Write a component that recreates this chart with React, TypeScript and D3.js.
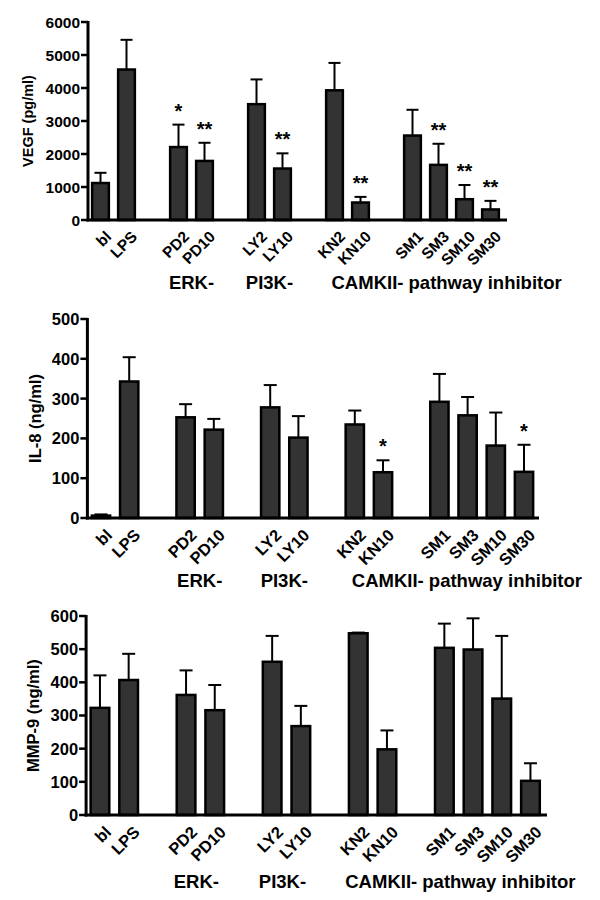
import React from "react";
import * as d3 from "d3";

const categories = ["bl", "LPS", "PD2", "PD10", "LY2", "LY10", "KN2", "KN10", "SM1", "SM3", "SM10", "SM30"];
const slots = [0, 1, 3, 4, 6, 7, 9, 10, 12, 13, 14, 15];

const vegfMean = [1120, 4560, 2210, 1790, 3510, 1560, 3930, 530, 2560, 1670, 630, 320];
const vegfErr = [1430, 5460, 2890, 2340, 4260, 2020, 4760, 700, 3340, 2310, 1060, 580];
const vegfSig = ["", "", "*", "**", "", "**", "", "**", "", "**", "**", "**"];
const vegfTicks = [0, 1000, 2000, 3000, 4000, 5000, 6000];

const il8Mean = [6, 343, 253, 222, 278, 202, 235, 115, 292, 258, 182, 116];
const il8Err = [9, 404, 286, 249, 334, 256, 270, 145, 362, 304, 265, 184];
const il8Sig = ["", "", "", "", "", "", "", "*", "", "", "", "*"];
const il8Ticks = [0, 100, 200, 300, 400, 500];

const mmpMean = [323, 407, 362, 316, 462, 268, 548, 198, 504, 499, 351, 103];
const mmpErr = [421, 486, 436, 392, 540, 329, 550, 255, 577, 593, 540, 156];
const mmpSig = ["", "", "", "", "", "", "", "", "", "", "", ""];
const mmpTicks = [0, 100, 200, 300, 400, 500, 600];

const groupLabels = ["ERK-", "PI3K-", "CAMKII- pathway inhibitor"];

const FONT = "'Liberation Sans', Arial, Helvetica, sans-serif";

type PanelCfg = {
  title: string;
  mean: number[];
  err: number[];
  sig: string[];
  ticks: number[];
  yMax: number;
  xStart: number;
  step: number;
  axisEnd: number;
  yTop: number;
  yBottom: number;
  tickFont: number;
  titleFont: number;
  titleX: number;
  catFont: number;
  groupBaseline: number;
  groupShift: number;
  cap: number;
};

function Panel({ c }: { c: PanelCfg }) {
  const x = d3
    .scaleBand<number>()
    .domain(d3.range(16))
    .range([c.xStart, c.xStart + c.step * 16])
    .paddingInner(0)
    .paddingOuter(0);
  const y = d3.scaleLinear().domain([0, c.yMax]).range([c.yBottom, c.yTop]);
  const bw = c.step * 0.72;
  const cx = (i: number) => (x(slots[i]) as number) + x.bandwidth() / 2;
  const axisX = c.xStart + 0.5;
  const midY = (c.yTop + c.yBottom) / 2;

  const grpErk = (cx(2) + cx(3)) / 2;
  const grpPi = (cx(4) + cx(5)) / 2;
  const grpCam = cx(6) - 3;

  return (
    <g fontFamily={FONT} fontWeight="bold" fill="#000">
      {categories.map((cat, i) => {
        const top = y(c.mean[i]);
        const h = y(0) - top;
        const ex = cx(i);
        const et = y(c.err[i]);
        return (
          <g key={cat}>
            <line x1={ex} x2={ex} y1={top} y2={et} stroke="#000" strokeWidth={2} />
            <line x1={ex - c.cap / 2} x2={ex + c.cap / 2} y1={et} y2={et} stroke="#000" strokeWidth={2} />
            <rect
              x={ex - bw / 2 + 1}
              y={top}
              width={bw - 2}
              height={Math.max(h, 0.5)}
              fill="#333333"
              stroke="#000"
              strokeWidth={2.5}
            />
            {c.sig[i] && (
              <text x={ex} y={et - 7} textAnchor="middle" fontSize={20} fontWeight="bold">
                {c.sig[i]}
              </text>
            )}
            <text
              transform={`translate(${ex + 4},${c.yBottom + 10}) rotate(-45)`}
              textAnchor="end"
              dy="0.7em"
              fontSize={c.catFont}
            >
              {cat}
            </text>
          </g>
        );
      })}
      <line x1={axisX} x2={axisX} y1={c.yTop - 1} y2={c.yBottom + 1.5} stroke="#000" strokeWidth={3} />
      <line x1={axisX - 1.5} x2={c.axisEnd} y1={c.yBottom} y2={c.yBottom} stroke="#000" strokeWidth={3} />
      {c.ticks.map((t) => (
        <g key={t}>
          <line x1={axisX - 7} x2={axisX} y1={y(t)} y2={y(t)} stroke="#000" strokeWidth={2.5} />
          <text x={axisX - 8} y={y(t)} dy="0.36em" textAnchor="end" fontSize={c.tickFont}>
            {t}
          </text>
        </g>
      ))}
      <text
        transform={`translate(${c.titleX},${midY}) rotate(-90)`}
        textAnchor="middle"
        fontSize={c.titleFont}
      >
        {c.title}
      </text>
      <text x={grpErk + c.groupShift} y={c.groupBaseline} textAnchor="middle" fontSize={18.5}>
        {groupLabels[0]}
      </text>
      <text x={grpPi + c.groupShift} y={c.groupBaseline} textAnchor="middle" fontSize={18.5}>
        {groupLabels[1]}
      </text>
      <text x={grpCam + c.groupShift * 2.5} y={c.groupBaseline} textAnchor="start" fontSize={18.5}>
        {groupLabels[2]}
      </text>
    </g>
  );
}

const panels: PanelCfg[] = [
  {
    title: "VEGF (pg/ml)",
    mean: vegfMean,
    err: vegfErr,
    sig: vegfSig,
    ticks: vegfTicks,
    yMax: 6000,
    xStart: 87.5,
    step: 26,
    axisEnd: 507,
    yTop: 22,
    yBottom: 220,
    tickFont: 15.5,
    titleFont: 14.5,
    titleX: 33,
    catFont: 15.5,
    groupBaseline: 289,
    groupShift: 0,
    cap: 12,
  },
  {
    title: "IL-8 (ng/ml)",
    mean: il8Mean,
    err: il8Err,
    sig: il8Sig,
    ticks: il8Ticks,
    yMax: 500,
    xStart: 86.9,
    step: 28.2,
    axisEnd: 539,
    yTop: 319,
    yBottom: 518,
    tickFont: 16.5,
    titleFont: 16.5,
    titleX: 41,
    catFont: 16.5,
    groupBaseline: 587,
    groupShift: 0,
    cap: 13,
  },
  {
    title: "MMP-9 (ng/ml)",
    mean: mmpMean,
    err: mmpErr,
    sig: mmpSig,
    ticks: mmpTicks,
    yMax: 600,
    xStart: 85.6,
    step: 28.7,
    axisEnd: 547,
    yTop: 616,
    yBottom: 815,
    tickFont: 16.5,
    titleFont: 16.5,
    titleX: 39,
    catFont: 16.5,
    groupBaseline: 888,
    groupShift: -4,
    cap: 13,
  },
];

export default function App() {
  return (
    <svg
      width={600}
      height={900}
      viewBox="0 0 600 900"
      style={{ position: "absolute", left: 0, top: 0, background: "#fff" }}
    >
      <rect width={600} height={900} fill="#fff" />
      {panels.map((p) => (
        <Panel key={p.title} c={p} />
      ))}
    </svg>
  );
}
